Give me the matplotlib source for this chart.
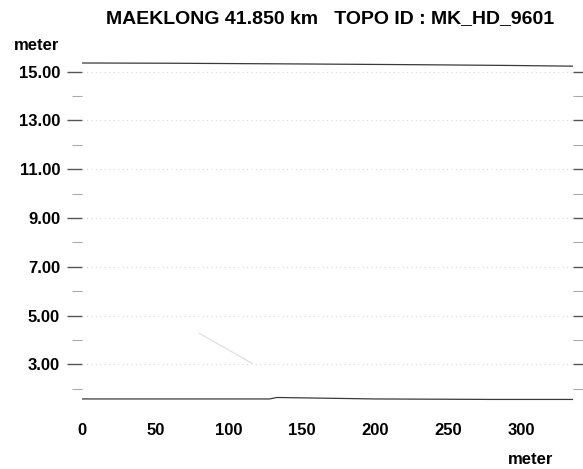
import numpy as np
import matplotlib.pyplot as plt

plt.rcParams['font.family'] = ['Liberation Sans', 'DejaVu Sans']

top_x = [0, 60, 150, 228, 290, 335]
top_y = [15.35, 15.34, 15.31, 15.28, 15.25, 15.22]
bed_x = [0, 128, 133, 200, 280, 335]
bed_y = [1.58, 1.58, 1.64, 1.58, 1.56, 1.56]
faint_x = [80, 116]
faint_y = [4.27, 3.04]
grid_levels = [3, 5, 7, 9, 11, 13, 15]
y_major = [3, 5, 7, 9, 11, 13, 15]
y_minor = [2, 4, 6, 8, 10, 12, 14]
x_ticks = [0, 50, 100, 150, 200, 250, 300]


def main():
    fig = plt.figure(figsize=(5.83, 4.69), dpi=100)
    ax = fig.add_axes([82 / 583, 0.1348, 491 / 583, 0.7439])

    for lv in grid_levels:
        ax.axhline(lv, color='#d8d8d8', linestyle=(0, (1, 3)), linewidth=0.8)

    ax.plot(top_x, top_y, color='#3a3a3a', linewidth=0.9)
    ax.plot(bed_x, bed_y, color='#3a3a3a', linewidth=0.9)
    ax.plot(faint_x, faint_y, color='#dddddd', linewidth=0.8)

    ax.set_xlim(0, 335)
    ax.set_ylim(1.3, 15.6)
    for s in ax.spines.values():
        s.set_visible(False)

    ax.set_yticks(y_major)
    ax.set_yticklabels(['%.2f' % v for v in y_major], fontsize=12, fontweight='bold')
    ax.set_yticks(y_minor, minor=True)
    ax.tick_params(axis='y', which='major', length=10.8, width=1.0, color='#555555',
                   pad=5, right=True)
    ax.tick_params(axis='y', which='minor', length=7.2, width=0.8, color='#aaaaaa',
                   right=True)

    ax.set_xticks(x_ticks)
    ax.set_xticklabels([str(v) for v in x_ticks], fontsize=12, fontweight='bold')
    ax.tick_params(axis='x', length=0, pad=12.3)

    fig.text(106 / 583, 1 - 19 / 469, 'MAEKLONG 41.850 km   TOPO ID : MK_HD_9601',
             fontsize=14, fontweight='bold', ha='left', va='center')
    fig.text(14 / 583, 1 - 45 / 469, 'meter', fontsize=12, fontweight='bold',
             ha='left', va='center')
    fig.text(508 / 583, 1 - 459 / 469, 'meter', fontsize=12, fontweight='bold',
             ha='left', va='center')

    fig.savefig('out.png', dpi=100)


if __name__ == "__main__":
    main()
